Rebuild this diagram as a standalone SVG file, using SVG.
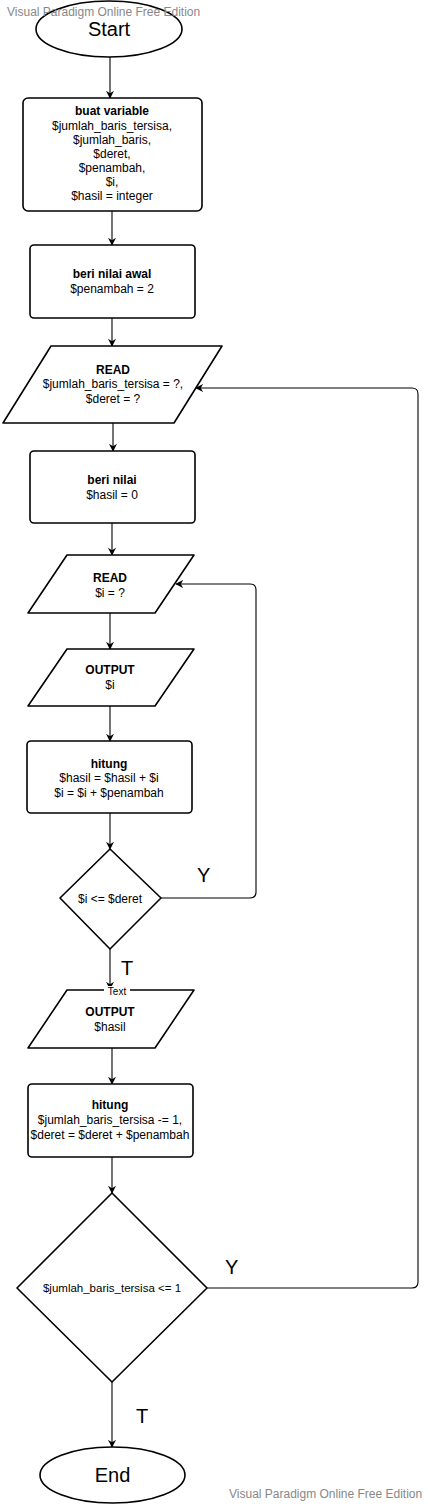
<svg xmlns="http://www.w3.org/2000/svg" width="428" height="1504" viewBox="0 0 428 1504">
<defs>
<marker id="arr" viewBox="0 0 10 10" refX="9" refY="5" markerWidth="8" markerHeight="8" markerUnits="userSpaceOnUse" orient="auto">
<path d="M0,0 L10,5 L0,10 L3,5 Z" fill="#000"/>
</marker>
<style>
.n{fill:#fff;stroke:#000;stroke-width:1.6;stroke-linejoin:round}
.c{fill:none;stroke:#000;stroke-width:1.1;marker-end:url(#arr)}
.t{font-family:"Liberation Sans",Arial,sans-serif;font-size:12px;fill:#000;text-anchor:middle}
.b{font-weight:bold}
.big{font-family:"Liberation Sans",Arial,sans-serif;font-size:20px;fill:#000;text-anchor:middle}
.lbl{font-family:"Liberation Sans",Arial,sans-serif;font-size:20px;fill:#000}
.wm{font-family:"Liberation Sans",Arial,sans-serif;font-size:12px;fill:#888}
</style>
</defs>
<rect width="428" height="1504" fill="#fff"/>

<g id="connectors">
<path class="c" d="M110,57 L110,98"/>
<path class="c" d="M112,211 L112,245"/>
<path class="c" d="M112,318 L112,346"/>
<path class="c" d="M113,423 L113,451"/>
<path class="c" d="M112,523 L112,555"/>
<path class="c" d="M110,613 L110,649"/>
<path class="c" d="M110,706 L110,741"/>
<path class="c" d="M110,813 L110,849"/>
<path class="c" d="M161,898 L250,898 Q256,898 256,892 L256,590 Q256,584 250,584 L176,584"/>
<path class="c" d="M110,949 L110,989"/>
<path class="c" d="M112,1048 L112,1084"/>
<path class="c" d="M112,1157 L112,1193"/>
<path class="c" d="M207,1288 L412,1288 Q418,1288 418,1282 L418,394 Q418,388 412,388 L196,388"/>
<path class="c" d="M112,1382 L112,1447"/>
<text class="lbl" x="197" y="882">Y</text>
<text class="lbl" x="121" y="975">T</text>
<text class="lbl" x="225" y="1274">Y</text>
<text class="lbl" x="136" y="1423">T</text>
</g>

<g id="start">
<ellipse class="n" cx="109" cy="29" rx="73" ry="28"/>
<text class="big" x="109" y="36">Start</text>
</g>

<g id="buat-variable">
<rect class="n" x="23" y="98" width="179" height="113" rx="5"/>
<text class="t b" x="112" y="115">buat variable</text>
<text class="t" x="112" y="130">$jumlah_baris_tersisa,</text>
<text class="t" x="112" y="144">$jumlah_baris,</text>
<text class="t" x="112" y="158">$deret,</text>
<text class="t" x="112" y="172">$penambah,</text>
<text class="t" x="112" y="186">$i,</text>
<text class="t" x="112" y="200">$hasil = integer</text>
</g>

<g id="nilai-awal">
<rect class="n" x="30" y="245" width="165" height="73" rx="4"/>
<text class="t b" x="112" y="278">beri nilai awal</text>
<text class="t" x="112" y="293">$penambah = 2</text>
</g>

<g id="read1">
<polygon class="n" points="51,346 222,346 174,423 3,423"/>
<text class="t b" x="113" y="374">READ</text>
<text class="t" x="113" y="388">$jumlah_baris_tersisa = ?,</text>
<text class="t" x="113" y="403">$deret = ?</text>
</g>

<g id="beri-nilai">
<rect class="n" x="30" y="451" width="165" height="72" rx="4"/>
<text class="t b" x="112" y="484">beri nilai</text>
<text class="t" x="112" y="499">$hasil = 0</text>
</g>

<g id="read2">
<polygon class="n" points="67,555 194,555 155,613 28,613"/>
<text class="t b" x="110" y="582">READ</text>
<text class="t" x="110" y="597">$i = ?</text>
</g>

<g id="output-i">
<polygon class="n" points="67,649 194,649 155,706 28,706"/>
<text class="t b" x="110" y="674">OUTPUT</text>
<text class="t" x="110" y="689">$i</text>
</g>

<g id="hitung1">
<rect class="n" x="27" y="741" width="165" height="72" rx="4"/>
<text class="t b" x="109" y="768">hitung</text>
<text class="t" x="109" y="782">$hasil = $hasil + $i</text>
<text class="t" x="109" y="797">$i = $i + $penambah</text>
</g>

<g id="cek-deret">
<polygon class="n" points="110,849 161,898 110,949 60,898"/>
<text class="t" x="110" y="903">$i &lt;= $deret</text>
</g>

<g id="output-hasil">
<polygon class="n" points="67,990 194,990 155,1048 28,1048"/>
<rect x="104" y="986" width="26" height="11" fill="#fff"/>
<text class="t" x="117" y="995" style="font-size:10px">Text</text>
<text class="t b" x="110" y="1016">OUTPUT</text>
<text class="t" x="110" y="1031">$hasil</text>
</g>

<g id="hitung2">
<rect class="n" x="28" y="1084" width="165" height="73" rx="4"/>
<text class="t b" x="110" y="1109">hitung</text>
<text class="t" x="110" y="1124">$jumlah_baris_tersisa -= 1,</text>
<text class="t" x="110" y="1139">$deret = $deret + $penambah</text>
</g>

<g id="cek-baris">
<polygon class="n" points="112,1193 207,1288 112,1382 17,1288"/>
<text class="t" x="112" y="1292" style="font-size:11.5px">$jumlah_baris_tersisa &lt;= 1</text>
</g>

<g id="end">
<ellipse class="n" cx="112.5" cy="1475" rx="72.5" ry="28"/>
<text class="big" x="112.5" y="1482">End</text>
</g>

<g id="watermark">
<text class="wm" x="7" y="16">Visual Paradigm Online Free Edition</text>
<text class="wm" x="229" y="1498">Visual Paradigm Online Free Edition</text>
</g>
</svg>
